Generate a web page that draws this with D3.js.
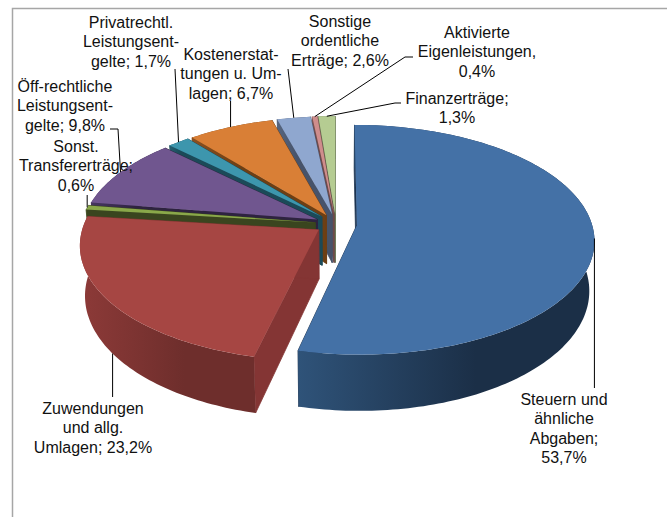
<!DOCTYPE html>
<html>
<head>
<meta charset="utf-8">
<script src="https://cdn.jsdelivr.net/npm/d3@7"></script>
<style>
body { margin: 0; background: #fff; }
text { font-family: "Liberation Sans", Arial, sans-serif; font-size: 16px; fill: #111; }
</style>
</head>
<body>
<div id="chart"></div>
<script>
// clockwise from 12 o'clock
var categories = [
	'Steuern und ähnliche Abgaben',
	'Zuwendungen und allg. Umlagen',
	'Sonst. Transfererträge',
	'Öff-rechtliche Leistungsentgelte',
	'Privatrechtl. Leistungsentgelte',
	'Kostenerstattungen u. Umlagen',
	'Sonstige ordentliche Erträge',
	'Aktivierte Eigenleistungen',
	'Finanzerträge'
];
var values = [53.7, 23.2, 0.6, 9.8, 1.7, 6.7, 2.6, 0.4, 1.3];
var labelLines = [
	['Steuern und', 'ähnliche', 'Abgaben;', '53,7%'],
	['Zuwendungen', 'und allg.', 'Umlagen; 23,2%'],
	['Sonst.', 'Transfererträge;', '0,6%'],
	['Öff-rechtliche', 'Leistungsent-', 'gelte; 9,8%'],
	['Privatrechtl.', 'Leistungsent-', 'gelte; 1,7%'],
	['Kostenerstat-', 'tungen u. Um-', 'lagen; 6,7%'],
	['Sonstige', 'ordentliche', 'Erträge; 2,6%'],
	['Aktivierte', 'Eigenleistungen,', '0,4%'],
	['Finanzerträge;', '1,3%']
];

var topColors  = ['#4471a6', '#a64643', '#8aa84a', '#70568f', '#3d96ad', '#d97f36', '#8fa7cf', '#cf8d8c', '#b5cc92'];
var wallColors = ['#1d3450', '#843534', '#3a451f', '#2e2340', '#1b4a58', '#6d3f14', '#47536a', '#6e4a4a', '#62704d'];
var sideLight  = ['#2f5379', '#8d3a38', '#4a5a28', '#463660', '#245f70', '#8a5020', '#56657f', '#7e5555', '#70805a'];
var sideDark   = ['#1b2f47', '#6e2e2c', '#3a451f', '#2e2340', '#1b4a58', '#6d3f14', '#47536a', '#6e4a4a', '#62704d'];

// label anchor (centre x, first baseline) and leader line points on the label side
var labelPos = [[564, 405], [93, 414], [76, 152], [65, 92], [131, 28], [231, 60], [340, 27], [477, 38], [457, 104]];
var leaderEnds = [
	[[null, 388]],
	[[null, 397]],
	[[null, 195]],
	[[118, 129], [110, 129]],
	[[175, 69]],
	[[null, 101]],
	[[288, 69]],
	[[405, 57], [413, 57]],
	[[395, 103], [401, 103]]
];
// leaders that start at the lower edge of the side wall
var leaderFromBottom = [false, true, false, false, false, false, false, false, false];

var width = 667, height = 517;
var cx = 336, cy = 224;
var radius = 235, radiusY = 112.7;
var explode = 21;
var perspective = 0.127;
var depth = 49;
var bottomShrink = 0.98; // lower rim sits further from the camera

var svg = d3.select('#chart').append('svg')
	.attr('width', width)
	.attr('height', height)
	.style('display', 'block');

// chart frame
svg.append('path')
	.attr('d', 'M12.5,517V8.5H667')
	.attr('fill', 'none')
	.attr('stroke', '#a6a6a6')
	.attr('stroke-width', 1.5);

var pie = d3.pie().sort(null).startAngle(0).endAngle(2 * Math.PI);
var slices = pie(values);

// ground plane to screen, with a little perspective (back smaller than front)
function project(angle, r, mid) {
	var u = explode * Math.sin(mid) + r * Math.sin(angle);
	var v = (explode * Math.cos(mid) + r * Math.cos(angle)) / radius;
	var s = 1 / (1 + perspective * v);
	return { x: cx + u * s, y: cy - v * radiusY * s, h: depth * s };
}

var line = d3.line().x(function(d) { return d.x; }).y(function(d) { return d.y; });

function arcPoints(d, mid) {
	var n = Math.max(2, Math.ceil((d.endAngle - d.startAngle) / 0.02));
	return d3.range(n + 1).map(function(i) {
		return project(d.startAngle + (d.endAngle - d.startAngle) * i / n, radius, mid);
	});
}

function dropped(p) {
	return { x: cx + (p.x - cx) * bottomShrink, y: p.y + p.h };
}

function wallPath(a, b) {
	return line([a, b, dropped(b), dropped(a)]) + 'Z';
}

var defs = svg.append('defs');

// back slices first, the front ones paint over them
d3.range(slices.length - 1, -1, -1).forEach(function(i) {
	var d = slices[i];
	var mid = (d.startAngle + d.endAngle) / 2;
	var apex = project(0, 0, mid);
	var rim = arcPoints(d, mid);
	var g = svg.append('g').attr('class', 'slice');

	// radial walls
	[rim[0], rim[rim.length - 1]].forEach(function(p) {
		g.append('path')
			.attr('d', wallPath(apex, p))
			.attr('fill', wallColors[i])
			.attr('stroke', wallColors[i])
			.attr('stroke-width', 0.8);
	});

	// outer wall
	var grad = defs.append('linearGradient')
		.attr('id', 'side' + i)
		.attr('gradientUnits', 'userSpaceOnUse')
		.attr('x1', d3.min(rim, function(p) { return p.x; }))
		.attr('x2', d3.max(rim, function(p) { return p.x; }))
		.attr('y1', 0)
		.attr('y2', 0);
	grad.append('stop').attr('offset', 0).attr('stop-color', sideLight[i]);
	grad.append('stop').attr('offset', 0.6).attr('stop-color', sideDark[i]);

	g.append('path')
		.attr('d', line(rim.concat(rim.map(dropped).reverse())) + 'Z')
		.attr('fill', 'url(#side' + i + ')');

	// top face
	g.append('path')
		.attr('d', line([apex].concat(rim)) + 'Z')
		.attr('fill', topColors[i]);
});

// leaders
slices.forEach(function(d, i) {
	var mid = (d.startAngle + d.endAngle) / 2;
	var start = project(mid, radius, mid);
	if (leaderFromBottom[i]) start = dropped(start);
	var pts = [start].concat(leaderEnds[i].map(function(e) {
		return { x: e[0] === null ? start.x : e[0], y: e[1] };
	}));
	svg.append('path')
		.attr('d', line(pts))
		.attr('fill', 'none')
		.attr('stroke', '#000')
		.attr('stroke-width', 1);
});

// labels
labelLines.forEach(function(lines, i) {
	var t = svg.append('text')
		.attr('text-anchor', 'middle')
		.attr('aria-label', categories[i]);
	lines.forEach(function(s, j) {
		t.append('tspan')
			.attr('x', labelPos[i][0])
			.attr('y', labelPos[i][1] + j * 19.3)
			.text(s);
	});
});
</script>
</body>
</html>
